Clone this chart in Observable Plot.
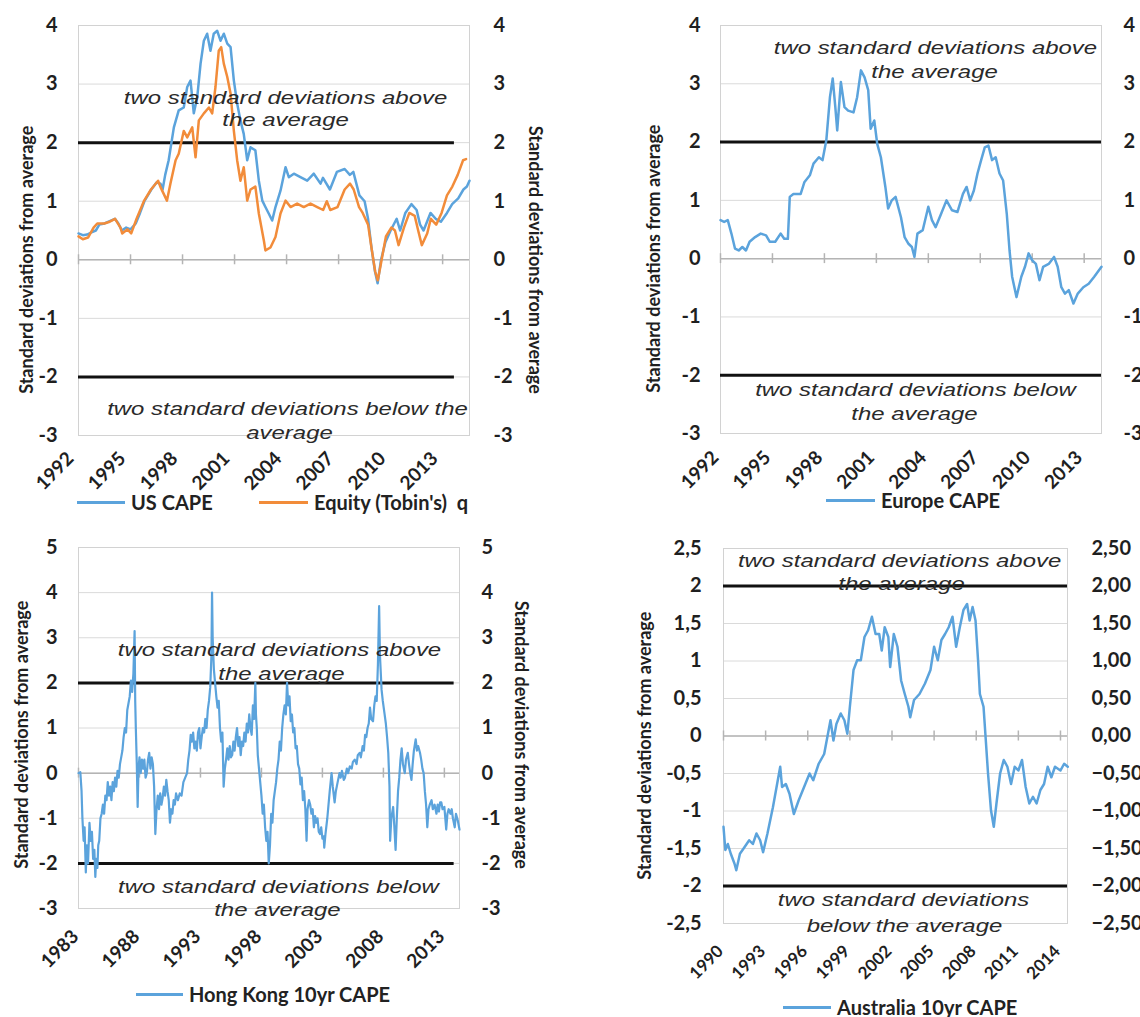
<!DOCTYPE html>
<html>
<head>
<meta charset="utf-8">
<script src="https://cdn.jsdelivr.net/npm/d3@7"></script>
<script src="https://cdn.jsdelivr.net/npm/@observablehq/plot@0.6"></script>
<style>
  body { margin: 0; background: #fff; }
  #root { position: relative; width: 1140px; height: 1017px; overflow: hidden; background: #fff; font-family: Lato, "Open Sans", sans-serif; }
  .panel { position: absolute; }
  .panel svg { overflow: visible; }
  .leg { position: absolute; display: flex; align-items: center; height: 24px; font: bold 20px Lato, sans-serif; color: #222; white-space: pre; }
  .leg .sw { display: inline-block; height: 3px; margin-right: 6px; }
</style>
</head>
<body>
<div id="root"></div>
<script>
// ---------------- DATA ----------------
const usCape = [
  [1992.00,0.45],[1992.25,0.42],[1992.50,0.43],[1992.75,0.47],[1993.00,0.50],[1993.20,0.60],[1993.50,0.62],[1993.80,0.66],
  [1994.10,0.70],[1994.30,0.62],[1994.50,0.50],[1994.75,0.55],[1995.00,0.52],[1995.30,0.62],[1995.55,0.80],[1995.80,1.00],
  [1996.00,1.10],[1996.20,1.20],[1996.50,1.32],[1996.73,1.30],[1996.85,1.20],[1997.00,1.45],[1997.20,1.70],[1997.50,2.26],
  [1997.78,2.55],[1998.07,2.60],[1998.27,2.95],[1998.46,3.06],[1998.65,2.50],[1998.85,2.78],[1999.04,3.35],[1999.23,3.74],
  [1999.42,3.86],[1999.61,3.57],[1999.80,3.86],[2000.00,3.91],[2000.19,3.74],[2000.38,3.86],[2000.58,3.69],[2000.77,3.63],
  [2000.96,3.06],[2001.15,2.67],[2001.34,2.38],[2001.53,2.15],[2001.73,1.70],[2001.92,1.92],[2002.20,1.87],[2002.40,1.35],
  [2002.60,1.01],[2002.78,0.90],[2002.97,0.79],[2003.17,0.67],[2003.36,0.90],[2003.65,1.18],[2003.94,1.58],[2004.13,1.41],
  [2004.42,1.47],[2004.80,1.41],[2005.19,1.35],[2005.57,1.47],[2005.96,1.30],[2006.10,1.40],[2006.50,1.20],[2006.90,1.50],
  [2007.35,1.55],[2007.65,1.45],[2007.85,1.50],[2008.20,1.10],[2008.50,1.00],[2008.70,0.70],[2008.90,0.20],[2009.10,-0.20],
  [2009.25,-0.40],[2009.45,0.00],[2009.70,0.30],[2010.00,0.50],[2010.35,0.70],[2010.55,0.50],[2010.85,0.80],[2011.20,0.95],
  [2011.50,0.85],[2011.70,0.60],[2011.90,0.50],[2012.10,0.65],[2012.30,0.80],[2012.60,0.70],[2012.90,0.65],[2013.25,0.80],
  [2013.55,0.95],[2013.90,1.05],[2014.20,1.20],[2014.40,1.25],[2014.55,1.35]
];
const tobinsQ = [
  [1992.00,0.40],[1992.25,0.35],[1992.55,0.38],[1992.87,0.55],[1993.08,0.62],[1993.49,0.62],[1993.80,0.65],[1994.11,0.70],
  [1994.42,0.55],[1994.52,0.45],[1994.83,0.52],[1995.04,0.45],[1995.35,0.70],[1995.77,1.00],[1996.18,1.20],[1996.59,1.35],
  [1996.73,1.24],[1997.10,1.01],[1997.30,1.30],[1997.60,1.70],[1997.78,1.81],[1998.07,2.20],[1998.27,2.09],[1998.56,2.26],
  [1998.75,1.75],[1998.94,2.38],[1999.23,2.50],[1999.52,2.60],[1999.71,2.50],[1999.90,2.95],[2000.09,3.57],[2000.23,3.63],
  [2000.38,3.35],[2000.58,3.12],[2000.77,2.84],[2000.96,2.20],[2001.15,1.70],[2001.34,1.35],[2001.53,1.58],[2001.73,1.01],
  [2001.92,1.20],[2002.20,1.25],[2002.40,0.79],[2002.69,0.33],[2002.78,0.16],[2003.07,0.21],[2003.36,0.39],[2003.65,0.79],
  [2003.94,1.01],[2004.23,0.90],[2004.61,0.96],[2004.99,0.90],[2005.38,0.96],[2005.77,0.90],[2006.11,0.85],[2006.32,1.00],
  [2006.52,0.85],[2006.94,0.90],[2007.35,1.20],[2007.66,1.30],[2007.87,1.20],[2008.18,0.90],[2008.39,0.80],[2008.70,0.60],
  [2008.90,0.20],[2009.11,-0.20],[2009.26,-0.35],[2009.42,-0.10],[2009.73,0.40],[2010.04,0.55],[2010.25,0.50],[2010.46,0.25],
  [2010.77,0.55],[2011.08,0.80],[2011.39,0.75],[2011.59,0.50],[2011.80,0.25],[2012.11,0.45],[2012.32,0.70],[2012.63,0.60],
  [2012.94,0.80],[2013.25,1.10],[2013.56,1.25],[2013.87,1.45],[2014.18,1.70],[2014.35,1.72]
];
const europeCape = [
  [1992.00,0.66],[1992.21,0.63],[1992.42,0.66],[1992.63,0.43],[1992.84,0.17],[1993.05,0.14],[1993.26,0.20],[1993.47,0.14],
  [1993.68,0.29],[1994.00,0.37],[1994.32,0.43],[1994.63,0.40],[1994.84,0.29],[1995.16,0.29],[1995.47,0.43],[1995.68,0.34],
  [1995.89,0.34],[1996.00,1.06],[1996.21,1.11],[1996.63,1.11],[1996.84,1.31],[1997.16,1.43],[1997.37,1.63],[1997.68,1.74],
  [1997.89,1.69],[1998.11,2.03],[1998.32,2.77],[1998.48,3.09],[1998.63,2.60],[1998.74,2.20],[1998.95,3.03],[1999.16,2.60],
  [1999.37,2.54],[1999.68,2.51],[1999.89,2.77],[2000.11,3.23],[2000.32,3.11],[2000.53,2.89],[2000.67,2.23],[2000.88,2.37],
  [2001.05,1.97],[2001.26,1.74],[2001.52,1.23],[2001.68,0.86],[2001.89,1.00],[2002.11,1.06],[2002.42,0.71],[2002.63,0.37],
  [2002.84,0.26],[2003.05,0.20],[2003.20,0.03],[2003.37,0.43],[2003.68,0.49],[2004.00,0.89],[2004.21,0.66],[2004.42,0.54],
  [2004.74,0.77],[2005.05,1.00],[2005.37,0.83],[2005.68,0.80],[2006.00,1.11],[2006.21,1.23],[2006.42,1.00],[2006.63,1.17],
  [2006.84,1.46],[2007.05,1.69],[2007.26,1.91],[2007.47,1.94],[2007.68,1.69],[2007.89,1.74],[2008.11,1.46],[2008.32,1.34],
  [2008.53,0.77],[2008.69,0.14],[2008.84,-0.31],[2009.09,-0.66],[2009.37,-0.31],[2009.58,-0.14],[2009.79,0.09],[2010.00,-0.03],
  [2010.21,-0.09],[2010.42,-0.37],[2010.63,-0.14],[2010.95,-0.09],[2011.26,0.03],[2011.47,-0.14],[2011.68,-0.49],[2011.89,-0.60],
  [2012.11,-0.54],[2012.38,-0.77],[2012.63,-0.60],[2012.95,-0.49],[2013.26,-0.43],[2013.58,-0.31],[2014.00,-0.14]
];
const hongKongCape = [
  [1983.00,0.00],[1983.15,0.02],[1983.25,-0.40],[1983.32,-1.00],[1983.42,-1.50],[1983.50,-1.20],[1983.60,-2.20],[1983.68,-1.60],
  [1983.78,-2.00],[1983.90,-1.10],[1984.00,-1.50],[1984.10,-1.30],[1984.20,-1.90],[1984.30,-1.70],[1984.38,-2.30],[1984.45,-1.90],
  [1984.55,-2.10],[1984.62,-1.60],[1984.70,-1.50],[1984.80,-1.00],[1984.90,-0.90],[1985.00,-0.70],[1985.10,-0.90],[1985.20,-0.50],
  [1985.30,-0.60],[1985.40,-0.20],[1985.50,-0.50],[1985.60,-0.30],[1985.70,-0.60],[1985.80,-0.20],[1985.90,-0.40],[1986.00,-0.10],
  [1986.10,-0.30],[1986.20,0.05],[1986.30,-0.10],[1986.40,0.20],[1986.50,0.35],[1986.60,0.50],[1986.70,0.80],[1986.80,1.00],
  [1986.90,0.90],[1987.00,1.40],[1987.10,1.55],[1987.20,1.70],[1987.30,2.05],[1987.40,1.80],[1987.50,2.20],[1987.60,3.15],
  [1987.65,1.60],[1987.70,1.00],[1987.78,0.20],[1987.85,-0.75],[1987.92,0.10],[1988.00,0.35],[1988.10,0.00],[1988.20,0.30],
  [1988.30,0.10],[1988.40,0.30],[1988.50,-0.10],[1988.60,0.00],[1988.70,0.30],[1988.80,0.45],[1988.90,0.10],[1989.00,0.35],
  [1989.10,0.20],[1989.20,-0.30],[1989.30,-1.35],[1989.40,-0.80],[1989.50,-0.50],[1989.60,-0.80],[1989.70,-0.45],[1989.80,-0.70],
  [1989.90,-0.55],[1990.00,-0.30],[1990.10,-0.50],[1990.20,-0.15],[1990.30,-0.40],[1990.40,-0.60],[1990.50,-1.10],[1990.60,-0.80],
  [1990.70,-0.90],[1990.80,-0.60],[1990.90,-0.70],[1991.00,-0.45],[1991.15,-0.60],[1991.30,-0.45],[1991.45,-0.50],[1991.60,-0.20],
  [1991.75,-0.10],[1991.90,0.00],[1992.00,0.30],[1992.10,0.50],[1992.20,0.85],[1992.30,0.70],[1992.40,0.90],[1992.50,0.55],
  [1992.60,0.70],[1992.70,0.50],[1992.80,0.90],[1992.90,1.00],[1993.00,0.55],[1993.10,0.80],[1993.20,1.00],[1993.30,0.90],
  [1993.40,1.20],[1993.50,1.00],[1993.60,1.40],[1993.70,1.60],[1993.80,1.90],[1993.90,2.60],[1993.95,4.00],[1994.00,3.00],
  [1994.10,2.30],[1994.20,2.00],[1994.30,1.70],[1994.40,1.45],[1994.50,1.60],[1994.60,1.00],[1994.70,0.70],[1994.80,0.90],
  [1994.90,-0.30],[1995.00,0.10],[1995.10,0.30],[1995.20,0.55],[1995.30,0.30],[1995.40,0.60],[1995.50,0.35],[1995.60,0.40],
  [1995.70,0.70],[1995.80,0.50],[1995.90,0.80],[1996.00,1.00],[1996.10,0.60],[1996.20,0.80],[1996.30,0.40],[1996.40,0.70],
  [1996.50,0.60],[1996.60,0.90],[1996.70,0.70],[1996.80,1.10],[1996.90,0.90],[1997.00,1.30],[1997.10,1.00],[1997.20,0.85],
  [1997.30,1.50],[1997.40,1.20],[1997.50,2.00],[1997.55,1.30],[1997.62,1.00],[1997.70,0.40],[1997.80,0.10],[1997.90,-0.20],
  [1998.00,-0.50],[1998.10,-0.90],[1998.20,-0.70],[1998.30,-1.20],[1998.40,-1.50],[1998.50,-1.30],[1998.60,-2.00],[1998.70,-1.60],
  [1998.80,-0.90],[1998.90,-1.10],[1999.00,-0.60],[1999.10,-0.40],[1999.20,-0.20],[1999.30,0.10],[1999.40,0.30],[1999.50,0.70],
  [1999.60,0.50],[1999.70,1.00],[1999.80,1.30],[1999.90,1.50],[2000.00,1.30],[2000.10,2.00],[2000.20,1.50],[2000.30,1.70],
  [2000.40,1.15],[2000.50,1.30],[2000.60,0.90],[2000.70,1.00],[2000.80,0.55],[2000.90,0.60],[2001.00,0.20],[2001.10,0.10],
  [2001.20,-0.25],[2001.30,-0.10],[2001.40,-0.60],[2001.50,-0.40],[2001.60,-0.80],[2001.70,-1.50],[2001.78,-0.80],[2001.90,-0.60],
  [2002.00,-0.70],[2002.10,-0.90],[2002.20,-0.80],[2002.30,-1.20],[2002.40,-0.95],[2002.50,-1.10],[2002.60,-1.00],[2002.70,-1.30],
  [2002.80,-1.35],[2002.90,-1.20],[2003.00,-1.45],[2003.10,-1.40],[2003.15,-1.65],[2003.25,-1.35],[2003.40,-1.00],[2003.50,-0.70],
  [2003.60,-0.40],[2003.75,0.00],[2003.85,-0.30],[2004.00,-0.65],[2004.10,-0.40],[2004.25,-0.20],[2004.40,0.00],[2004.50,-0.10],
  [2004.60,0.05],[2004.75,-0.15],[2004.85,-0.10],[2005.00,0.10],[2005.10,0.00],[2005.25,0.15],[2005.40,0.10],[2005.50,0.25],
  [2005.65,0.30],[2005.80,0.20],[2005.90,0.40],[2006.05,0.45],[2006.15,0.35],[2006.30,0.60],[2006.40,0.50],[2006.50,0.85],
  [2006.60,0.80],[2006.70,1.00],[2006.80,1.10],[2006.90,1.45],[2007.00,1.20],[2007.15,1.15],[2007.25,1.50],[2007.35,1.70],
  [2007.45,1.60],[2007.55,2.40],[2007.65,3.70],[2007.72,2.60],[2007.85,1.85],[2007.95,1.60],[2008.10,1.30],[2008.20,1.10],
  [2008.30,0.80],[2008.40,0.45],[2008.50,-0.30],[2008.55,-1.50],[2008.65,-1.00],[2008.80,-0.75],[2008.90,-1.20],[2009.00,-1.70],
  [2009.10,-1.00],[2009.20,-0.40],[2009.30,-0.10],[2009.40,0.30],[2009.50,0.55],[2009.60,0.20],[2009.75,0.00],[2009.85,0.30],
  [2010.00,0.45],[2010.10,0.20],[2010.20,0.00],[2010.30,-0.15],[2010.40,0.20],[2010.50,0.50],[2010.65,0.75],[2010.75,0.50],
  [2010.85,0.60],[2011.00,0.45],[2011.10,0.30],[2011.20,0.10],[2011.30,0.00],[2011.40,-0.40],[2011.50,-0.70],[2011.60,-1.20],
  [2011.70,-0.80],[2011.80,-0.70],[2011.95,-0.60],[2012.05,-0.80],[2012.20,-0.70],[2012.35,-0.90],[2012.45,-0.70],[2012.55,-0.85],
  [2012.65,-0.65],[2012.75,-0.65],[2012.85,-0.80],[2013.00,-0.75],[2013.15,-1.25],[2013.25,-0.90],[2013.35,-0.80],[2013.50,-0.90],
  [2013.60,-0.80],[2013.70,-1.00],[2013.85,-1.20],[2013.95,-0.90],[2014.10,-1.05],[2014.24,-1.25]
];
const australiaCape = [
  [1990.00,-1.21],[1990.13,-1.52],[1990.31,-1.44],[1990.52,-1.57],[1990.78,-1.70],[1990.91,-1.79],[1991.17,-1.57],[1991.43,-1.50],
  [1991.83,-1.39],[1992.09,-1.44],[1992.35,-1.30],[1992.61,-1.39],[1992.82,-1.55],[1993.13,-1.30],[1993.52,-0.95],[1993.78,-0.68],
  [1994.04,-0.41],[1994.17,-0.68],[1994.44,-0.64],[1994.70,-0.77],[1995.01,-1.04],[1995.35,-0.86],[1995.74,-0.68],[1996.13,-0.50],
  [1996.39,-0.59],[1996.78,-0.37],[1997.17,-0.24],[1997.44,0.03],[1997.62,0.21],[1997.83,-0.06],[1998.04,0.16],[1998.35,0.30],
  [1998.61,0.21],[1998.82,0.03],[1999.00,0.39],[1999.26,0.88],[1999.52,1.01],[1999.78,1.01],[2000.04,1.32],[2000.30,1.41],
  [2000.57,1.59],[2000.83,1.36],[2001.09,1.36],[2001.27,1.14],[2001.48,1.45],[2001.74,1.32],[2001.87,0.92],[2002.13,1.36],
  [2002.39,1.19],[2002.65,0.74],[2002.91,0.56],[2003.17,0.39],[2003.30,0.25],[2003.57,0.48],[2003.96,0.56],[2004.35,0.70],
  [2004.74,0.88],[2005.00,1.19],[2005.26,1.01],[2005.52,1.28],[2005.78,1.36],[2006.04,1.45],[2006.31,1.59],[2006.57,1.19],
  [2006.83,1.45],[2007.09,1.68],[2007.35,1.76],[2007.53,1.54],[2007.74,1.72],[2007.95,1.54],[2008.13,1.01],[2008.26,0.56],
  [2008.52,0.39],[2008.65,0.03],[2008.84,-0.50],[2009.05,-0.99],[2009.25,-1.21],[2009.44,-0.90],[2009.70,-0.50],[2009.96,-0.32],
  [2010.22,-0.41],[2010.48,-0.64],[2010.74,-0.41],[2011.00,-0.46],[2011.26,-0.32],[2011.52,-0.68],[2011.78,-0.90],[2012.04,-0.81],
  [2012.30,-0.90],[2012.57,-0.72],[2012.83,-0.64],[2013.09,-0.41],[2013.35,-0.55],[2013.61,-0.41],[2014.00,-0.46],[2014.26,-0.37],
  [2014.52,-0.41]
];

const yearTicksUS = [1992, 1995, 1998, 2001, 2004, 2007, 2010, 2013];
const yearTicksHK = [1983, 1988, 1993, 1998, 2003, 2008, 2013];
const yearTicksAU = [1990, 1993, 1996, 1999, 2002, 2005, 2008, 2011, 2014];
const sdTicks = [-3, -2, -1, 0, 1, 2, 3, 4];
const sdTicksHK = [-3, -2, -1, 0, 1, 2, 3, 4, 5];
const sdTicksAU = [-2.5, -2, -1.5, -1, -0.5, 0, 0.5, 1, 1.5, 2, 2.5];
const bandLevels = [2, -2];
const axisTitle = "Standard deviations from average";
const seriesNames = ["US CAPE", "Equity (Tobin's)  q", "Europe CAPE", "Hong Kong 10yr CAPE", "Australia 10yr CAPE"];

const BLUE = "#5ba3dc", ORANGE = "#f28c3a";
const toPts = arr => arr.map(([year, value]) => ({year, value}));
const plain = d => String(d);
const commaShort = d => String(d).replace(".", ",");
const commaLong = d => d3.format(".2f")(d).replace(".", ",");

const panels = [
  { left: 0, top: 0, width: 570, height: 500, m: [25, 101, 65, 78],
    xDomain: [1992, 2014.55], xTicks: yearTicksUS, yDomain: [-3, 4], yTicks: sdTicks, tick: 0.085,
    refEnd: 2013.68, padL: 21, padR: 24, fmtL: plain, fmtR: plain, xFont: 19, xdx: -8, xdy: 20,
    titleY: 0, titleL: -51, titleR: 65, lineW: 2.5,
    series: [{data: usCape, color: BLUE}, {data: tobinsQ, color: ORANGE}],
    ann: [
      {x: 2003.94, y: 2.77, text: "two standard deviations above"},
      {x: 2003.94, y: 2.38, text: "the average"},
      {x: 2004.05, y: -2.54, text: "two standard deviations below the"},
      {x: 2004.17, y: -2.95, text: "average"}
    ],
    legend: [{left: 77, top: 490, w: 48, color: BLUE, label: seriesNames[0]}, {left: 259, top: 490, w: 49, color: ORANGE, label: seriesNames[1]}]
  },
  { left: 570, top: 0, width: 570, height: 500, m: [25, 39, 67, 150],
    xDomain: [1992, 2014.0], xTicks: yearTicksUS, yDomain: [-3, 4], yTicks: sdTicks, tick: 0.085,
    refEnd: 2014.0, padL: 20, padR: 22, fmtL: plain, fmtR: plain, xFont: 19, xdx: -5, xdy: 21,
    titleY: 0, titleL: -66, titleR: null, lineW: 2.5,
    series: [{data: europeCape, color: BLUE}],
    ann: [
      {x: 2004.41, y: 3.61, text: "two standard deviations above"},
      {x: 2004.36, y: 3.21, text: "the average"},
      {x: 2003.26, y: -2.26, text: "two standard deviations below"},
      {x: 2003.20, y: -2.66, text: "the average"}
    ],
    legend: [{left: 826, top: 488, w: 49, color: BLUE, label: seriesNames[2]}]
  },
  { left: 0, top: 520, width: 570, height: 450, m: [27, 111, 62, 78],
    xDomain: [1983, 2014.24], xTicks: yearTicksHK, yDomain: [-3, 5], yTicks: sdTicksHK, tick: 0.11,
    refEnd: 2013.8, padL: 21, padR: 22, fmtL: plain, fmtR: plain, xFont: 19, xdx: -3, xdy: 25,
    titleY: 0.85, titleL: -56, titleR: 61, lineW: 2.2,
    series: [{data: hongKongCape, color: BLUE}],
    ann: [
      {x: 1999.48, y: 2.72, text: "two standard deviations above"},
      {x: 1999.64, y: 2.19, text: "the average"},
      {x: 1999.39, y: -2.53, text: "two standard deviations below"},
      {x: 1999.31, y: -3.04, text: "the average"}
    ],
    legend: [{left: 136, top: 982, w: 47, color: BLUE, label: seriesNames[3]}]
  },
  { left: 570, top: 520, width: 570, height: 460, m: [28, 73, 57, 153],
    xDomain: [1990, 2014.5], xTicks: yearTicksAU, yDomain: [-2.5, 2.5], yTicks: sdTicksAU, tick: 0.067,
    refEnd: 2014.5, padL: 22, padR: 24, fmtL: commaShort, fmtR: commaLong, xFont: 17, xdx: -3, xdy: 25,
    titleY: -0.13, titleL: -78, titleR: null, lineW: 2.5,
    series: [{data: australiaCape, color: BLUE}],
    ann: [
      {x: 2002.54, y: 2.34, text: "two standard deviations above"},
      {x: 2002.68, y: 2.03, text: "the average"},
      {x: 2002.82, y: -2.19, text: "two standard deviations"},
      {x: 2002.89, y: -2.53, text: "below the average"}
    ],
    legend: [{left: 783, top: 995, w: 48, color: BLUE, label: seriesNames[4]}]
  }
];

const root = document.getElementById("root");
const annTexts = new Set(panels.flatMap(p => p.ann.map(a => a.text)));

for (const p of panels) {
  const marks = [
    Plot.ruleY(p.yTicks, {stroke: "#dadada", strokeWidth: 1}),
    Plot.frame({stroke: "#d2d2d2", strokeWidth: 1}),
    Plot.ruleY([0], {stroke: "#b4b4b4", strokeWidth: 1.5}),
    Plot.ruleX(p.xTicks, {x: d => d, y1: -p.tick, y2: p.tick, stroke: "#b4b4b4", strokeWidth: 1.5}),
    Plot.ruleY(bandLevels, {x1: p.xDomain[0], x2: p.refEnd, stroke: "#111", strokeWidth: 3}),
    ...p.series.map(s => Plot.line(toPts(s.data), {x: "year", y: "value", stroke: s.color, strokeWidth: p.lineW})),
    Plot.text(p.ann, {x: "x", y: "y", text: "text", fontStyle: "italic", fontFamily: "'Liberation Sans', Arial, sans-serif",
      fontSize: 19, fill: "#2a2a2a", lineAnchor: "middle"}),
    Plot.axisY({anchor: "left", ticks: p.yTicks, tickSize: 0, tickPadding: p.padL, tickFormat: p.fmtL,
      fontSize: 20, fontWeight: "bold", label: null}),
    Plot.axisY({anchor: "right", ticks: p.yTicks, tickSize: 0, tickPadding: p.padR, tickFormat: p.fmtR,
      fontSize: 20, fontWeight: "bold", label: null}),
    Plot.text(p.xTicks, {x: d => d, frameAnchor: "bottom", text: plain, rotate: -45, textAnchor: "end",
      lineAnchor: "middle", dx: p.xdx, dy: p.xdy, fontSize: p.xFont, fontWeight: "bold", fill: "#1f1f1f"}),
    Plot.text([axisTitle], {text: d => d, frameAnchor: "left", y: p.titleY, rotate: -90, dx: p.titleL,
      textAnchor: "middle", lineAnchor: "middle", fontSize: 18, fontWeight: "bold", fill: "#1f1f1f"})
  ];
  if (p.titleR != null) {
    marks.push(Plot.text([axisTitle], {text: d => d, frameAnchor: "right", y: p.titleY, rotate: 90, dx: p.titleR,
      textAnchor: "middle", lineAnchor: "middle", fontSize: 18, fontWeight: "bold", fill: "#1f1f1f"}));
  }
  const svg = Plot.plot({
    width: p.width, height: p.height,
    marginTop: p.m[0], marginRight: p.m[1], marginBottom: p.m[2], marginLeft: p.m[3],
    x: {type: "linear", domain: p.xDomain, axis: null},
    y: {type: "linear", domain: p.yDomain},
    style: {fontFamily: "Lato, 'Open Sans', sans-serif", background: "transparent", color: "#1f1f1f", overflow: "visible"},
    marks
  });
  svg.querySelectorAll("text").forEach(t => {
    if (annTexts.has(t.textContent)) {
      const tr = t.getAttribute("transform") || "";
      t.setAttribute("transform", tr + " scale(1.26,1)");
    }
  });
  const div = document.createElement("div");
  div.className = "panel";
  div.style.left = p.left + "px";
  div.style.top = p.top + "px";
  div.appendChild(svg);
  root.appendChild(div);
  for (const l of p.legend) {
    const el = document.createElement("div");
    el.className = "leg";
    el.style.left = l.left + "px";
    el.style.top = l.top + "px";
    const sw = document.createElement("span");
    sw.className = "sw";
    sw.style.width = l.w + "px";
    sw.style.background = l.color;
    el.appendChild(sw);
    el.appendChild(document.createTextNode(l.label));
    root.appendChild(el);
  }
}
</script>
</body>
</html>
